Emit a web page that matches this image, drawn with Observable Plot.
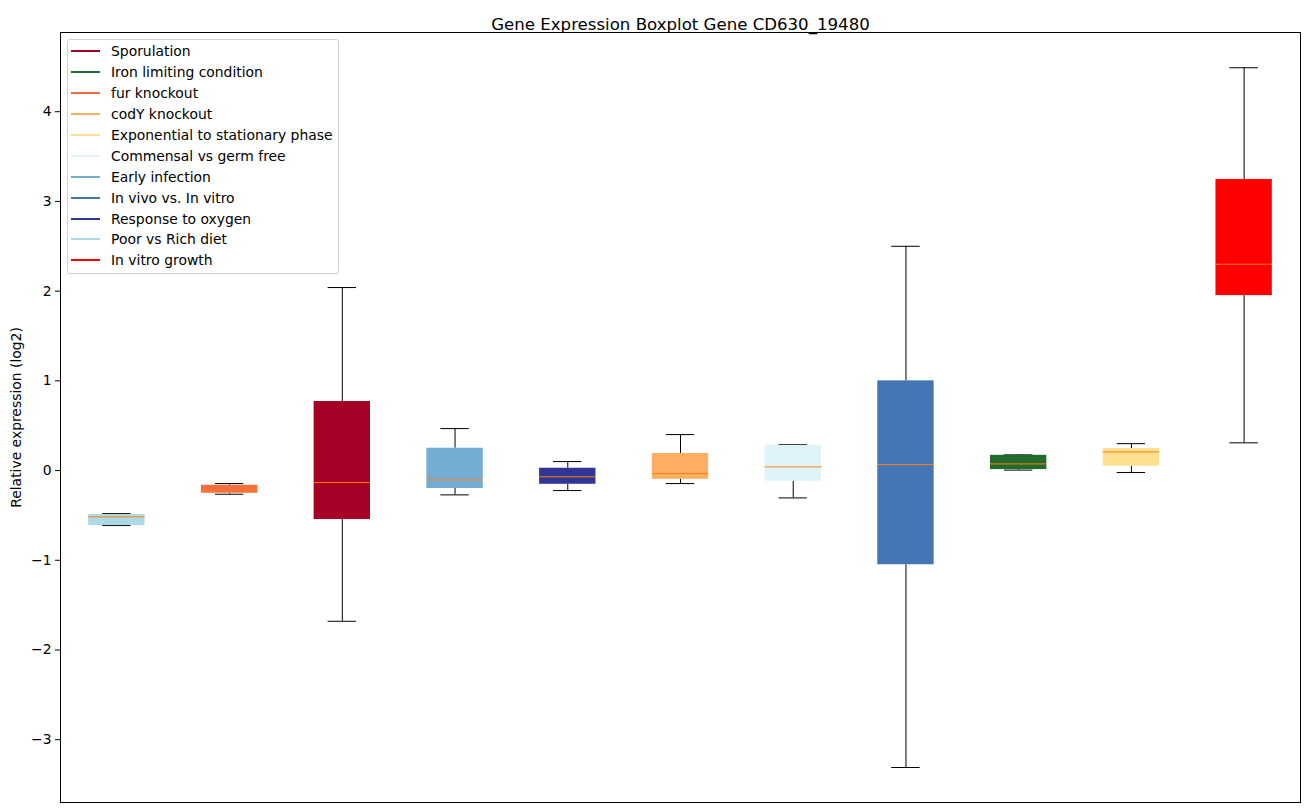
<!DOCTYPE html>
<html>
<head>
<meta charset="utf-8">
<script src="https://cdn.jsdelivr.net/npm/d3@7"></script>
<script src="https://cdn.jsdelivr.net/npm/@observablehq/plot@0.6"></script>
<style>
  body { margin: 0; background: #fff; font-family: "DejaVu Sans", sans-serif; }
  #wrap { position: relative; width: 1309px; height: 812px; }
  #legend { position: absolute; left: 67px; top: 39px; width: 272px; height: 235px;
    border: 1px solid #d0d0d0; border-radius: 3px; background: rgba(255,255,255,0.8);
    font-size: 13.9px; color: #000; box-sizing: border-box; padding-top: 1px; }
  .item { height: 20.9px; display: flex; align-items: center; }
  .sw { width: 29px; height: 0; border-top: 2px solid; margin-left: 3px; margin-right: 11px; }
</style>
</head>
<body>
<div id="wrap"><div id="chart"></div><div id="legend"></div></div>
<script>
const title = "Gene Expression Boxplot Gene CD630_19480";
const yLabel = "Relative expression (log2)";
const categories = ["Poor vs Rich diet", "fur knockout", "Sporulation", "Early infection", "Response to oxygen", "codY knockout", "Commensal vs germ free", "In vivo vs. In vitro", "Iron limiting condition", "Exponential to stationary phase", "In vitro growth"];
const boxColors  = ["#add8e6", "#f46d43", "#a50026", "#74add1", "#313695", "#fdae61", "#e0f3f8", "#4575b4", "#226b2c", "#fee090", "#ff0000"];
const whiskerLow = [-0.613, -0.264, -1.68, -0.271, -0.223, -0.145, -0.305, -3.31, 0.005, -0.022, 0.309];
const q1         = [-0.613, -0.253, -0.546, -0.20, -0.153, -0.097, -0.119, -1.05, 0.011, 0.048, 1.95];
const median     = [-0.516, -0.226, -0.134, -0.104, -0.07, -0.033, 0.041, 0.067, 0.074, 0.208, 2.30];
const q3         = [-0.49, -0.164, 0.77, 0.249, 0.026, 0.19, 0.282, 1.00, 0.17, 0.245, 3.244];
const whiskerHigh= [-0.48, -0.145, 2.04, 0.468, 0.10, 0.401, 0.29, 2.50, 0.175, 0.30, 4.49];
const legendOrder = ["Sporulation", "Iron limiting condition", "fur knockout", "codY knockout", "Exponential to stationary phase", "Commensal vs germ free", "Early infection", "In vivo vs. In vitro", "Response to oxygen", "Poor vs Rich diet", "In vitro growth"];
const yTicks = [-3, -2, -1, 0, 1, 2, 3, 4];

const data = categories.map((c, i) => ({
  cat: c, color: boxColors[i], lo: whiskerLow[i], q1: q1[i], med: median[i], q3: q3[i], hi: whiskerHigh[i]
}));
const fmt = d => d < 0 ? "\u2212" + (-d) : String(d);

const chart = Plot.plot({
  width: 1309, height: 812,
  marginLeft: 60, marginRight: 9, marginTop: 32, marginBottom: 10,
  style: { fontFamily: "DejaVu Sans, sans-serif", fontSize: "13.9px", color: "#000", background: "#fff" },
  x: { type: "band", domain: categories, paddingInner: 0.5, paddingOuter: 0.25, round: false, axis: null },
  y: { domain: [-3.70, 4.883] },
  marks: [
    Plot.axisY({ ticks: yTicks, tickFormat: fmt, tickSize: 5, tickPadding: 4, label: yLabel,
      labelAnchor: "center", labelArrow: "none", labelOffset: 49, fontSize: 13.9 }),
    Plot.ruleX(data, { x: "cat", y1: "q3", y2: "hi", stroke: "#000", strokeWidth: 1 }),
    Plot.ruleX(data, { x: "cat", y1: "lo", y2: "q1", stroke: "#000", strokeWidth: 1 }),
    Plot.tickY(data, { x: "cat", y: "hi", stroke: "#000", strokeWidth: 1, insetLeft: 14, insetRight: 14 }),
    Plot.tickY(data, { x: "cat", y: "lo", stroke: "#000", strokeWidth: 1, insetLeft: 14, insetRight: 14 }),
    Plot.barY(data, { x: "cat", y1: "q1", y2: "q3", fill: d => d.color }),
    Plot.tickY(data, { x: "cat", y: "med", stroke: "#ff7f0e", strokeWidth: 1 }),
    Plot.frame({ stroke: "#000", strokeWidth: 1 }),
    Plot.text([title], { frameAnchor: "top", dy: -14, fontSize: 16.6, fill: "#000" })
  ]
});
document.getElementById("chart").appendChild(chart);

const colorOf = Object.fromEntries(categories.map((c, i) => [c, boxColors[i]]));
const leg = document.getElementById("legend");
for (const name of legendOrder) {
  const row = document.createElement("div");
  row.className = "item";
  const sw = document.createElement("span");
  sw.className = "sw";
  sw.style.borderColor = colorOf[name];
  const t = document.createElement("span");
  t.textContent = name;
  row.appendChild(sw); row.appendChild(t);
  leg.appendChild(row);
}
</script>
</body>
</html>
